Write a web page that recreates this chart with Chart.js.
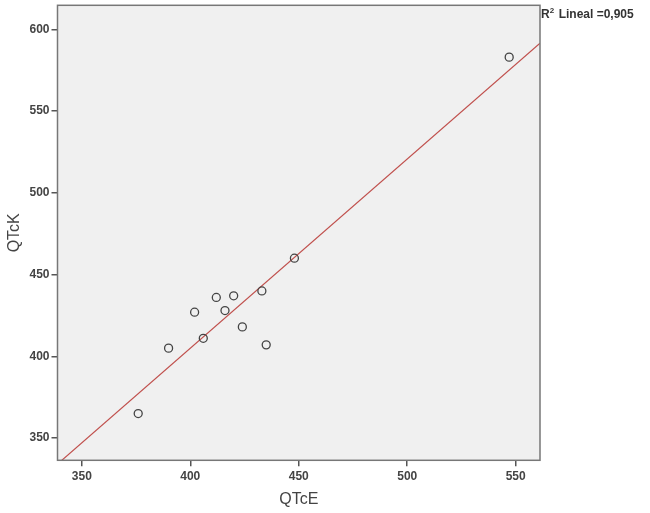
<!DOCTYPE html>
<html>
<head>
<meta charset="utf-8">
<script src="https://cdn.jsdelivr.net/npm/chart.js@4.4.1/dist/chart.umd.min.js"></script>
<style>
  html, body { margin: 0; padding: 0; background: #fff; }
  #wrap { width: 650px; height: 513px; }
</style>
</head>
<body>
<div id="wrap"><canvas id="scatterChart" width="650" height="513"></canvas></div>
<script>
// valeurs
var qtcE = [376, 390, 402, 406, 412, 416, 420, 424, 433, 435, 448, 547];
var qtcK = [365, 405, 427, 411, 436, 428, 437, 418, 440, 407, 460, 583];
var xTicks = [350, 400, 450, 500, 550];
var yTicks = [350, 400, 450, 500, 550, 600];
var xRange = [338.8, 561.2];
var yRange = [336.4, 614.7];
var r2Label = 'Lineal =0,905';

// droite de regression (moindres carres)
var n = qtcE.length, mx = 0, my = 0;
for (var i = 0; i < n; i++) { mx += qtcE[i]; my += qtcK[i]; }
mx /= n; my /= n;
var sxy = 0, sxx = 0;
for (var i = 0; i < n; i++) {
  sxy += (qtcE[i] - mx) * (qtcK[i] - my);
  sxx += (qtcE[i] - mx) * (qtcE[i] - mx);
}
var slope = sxy / sxx;
var intercept = my - slope * mx;

var points = qtcE.map(function(v, i) { return { x: v, y: qtcK[i] }; });
var fitLine = xRange.map(function(v) { return { x: v, y: intercept + slope * v }; });

var frame = {
  id: 'frame',
  beforeDraw: function(chart) {
    var a = chart.chartArea, c = chart.ctx;
    c.save();
    c.fillStyle = '#f0f0f0';
    c.fillRect(a.left, a.top, a.right - a.left, a.bottom - a.top);
    c.restore();
  },
  afterDraw: function(chart) {
    var a = chart.chartArea, c = chart.ctx;
    c.save();
    c.strokeStyle = '#777';
    c.lineWidth = 1.5;
    c.strokeRect(a.left, a.top, a.right - a.left, a.bottom - a.top);
    // R2 label
    c.fillStyle = '#333';
    c.textBaseline = 'alphabetic';
    c.font = 'bold 12px "Liberation Sans", Arial, sans-serif';
    var x0 = a.right + 1, y0 = 18;
    c.fillText('R', x0, y0);
    var w = c.measureText('R').width;
    c.font = 'bold 8px "Liberation Sans", Arial, sans-serif';
    c.fillText('2', x0 + w, y0 - 5);
    c.font = 'bold 12px "Liberation Sans", Arial, sans-serif';
    c.fillText(r2Label, x0 + w + 9, y0);
    c.restore();
  }
};

var tickFont = { family: '"Liberation Sans", Arial, sans-serif', size: 12, weight: 'bold' };
var titleFont = { family: '"Liberation Sans", Arial, sans-serif', size: 16 };

new Chart(document.getElementById('scatterChart'), {
  type: 'scatter',
  data: {
    datasets: [{
      data: points,
      pointRadius: 4,
      pointHoverRadius: 4,
      pointBorderWidth: 1.3,
      pointBorderColor: '#444',
      pointBackgroundColor: 'rgba(0,0,0,0)'
    }, {
      type: 'line',
      data: fitLine,
      borderColor: '#c0504d',
      borderWidth: 1.2,
      pointRadius: 0,
      fill: false
    }]
  },
  options: {
    responsive: false,
    animation: false,
    layout: { padding: { top: 5, right: 110, left: 0, bottom: 0 } },
    plugins: {
      legend: { display: false },
      tooltip: { enabled: false }
    },
    scales: {
      x: {
        type: 'linear',
        min: xRange[0], max: xRange[1],
        afterBuildTicks: function(s) { s.ticks = xTicks.map(function(v) { return { value: v }; }); },
        afterFit: function(s) { s.height = 52.7; s.paddingLeft = 0; s.paddingRight = 0; },
        grid: { drawOnChartArea: false, tickLength: 6, color: '#555', lineWidth: 1.5 },
        border: { display: false },
        ticks: { color: '#444', font: tickFont, padding: 3, maxRotation: 0 },
        title: { display: true, text: 'QTcE', color: '#444', font: titleFont, padding: { top: 4 } }
      },
      y: {
        type: 'linear',
        min: yRange[0], max: yRange[1],
        afterBuildTicks: function(s) { s.ticks = yTicks.map(function(v) { return { value: v }; }); },
        afterFit: function(s) { s.width = 57.5; s.paddingTop = 0; s.paddingBottom = 0; },
        grid: { drawOnChartArea: false, tickLength: 6, color: '#555', lineWidth: 1.5 },
        border: { display: false },
        ticks: { color: '#444', font: tickFont, padding: 2 },
        title: { display: true, text: 'QTcK', color: '#444', font: titleFont, padding: { top: 5, bottom: 4 } }
      }
    }
  },
  plugins: [frame]
});
</script>
</body>
</html>
